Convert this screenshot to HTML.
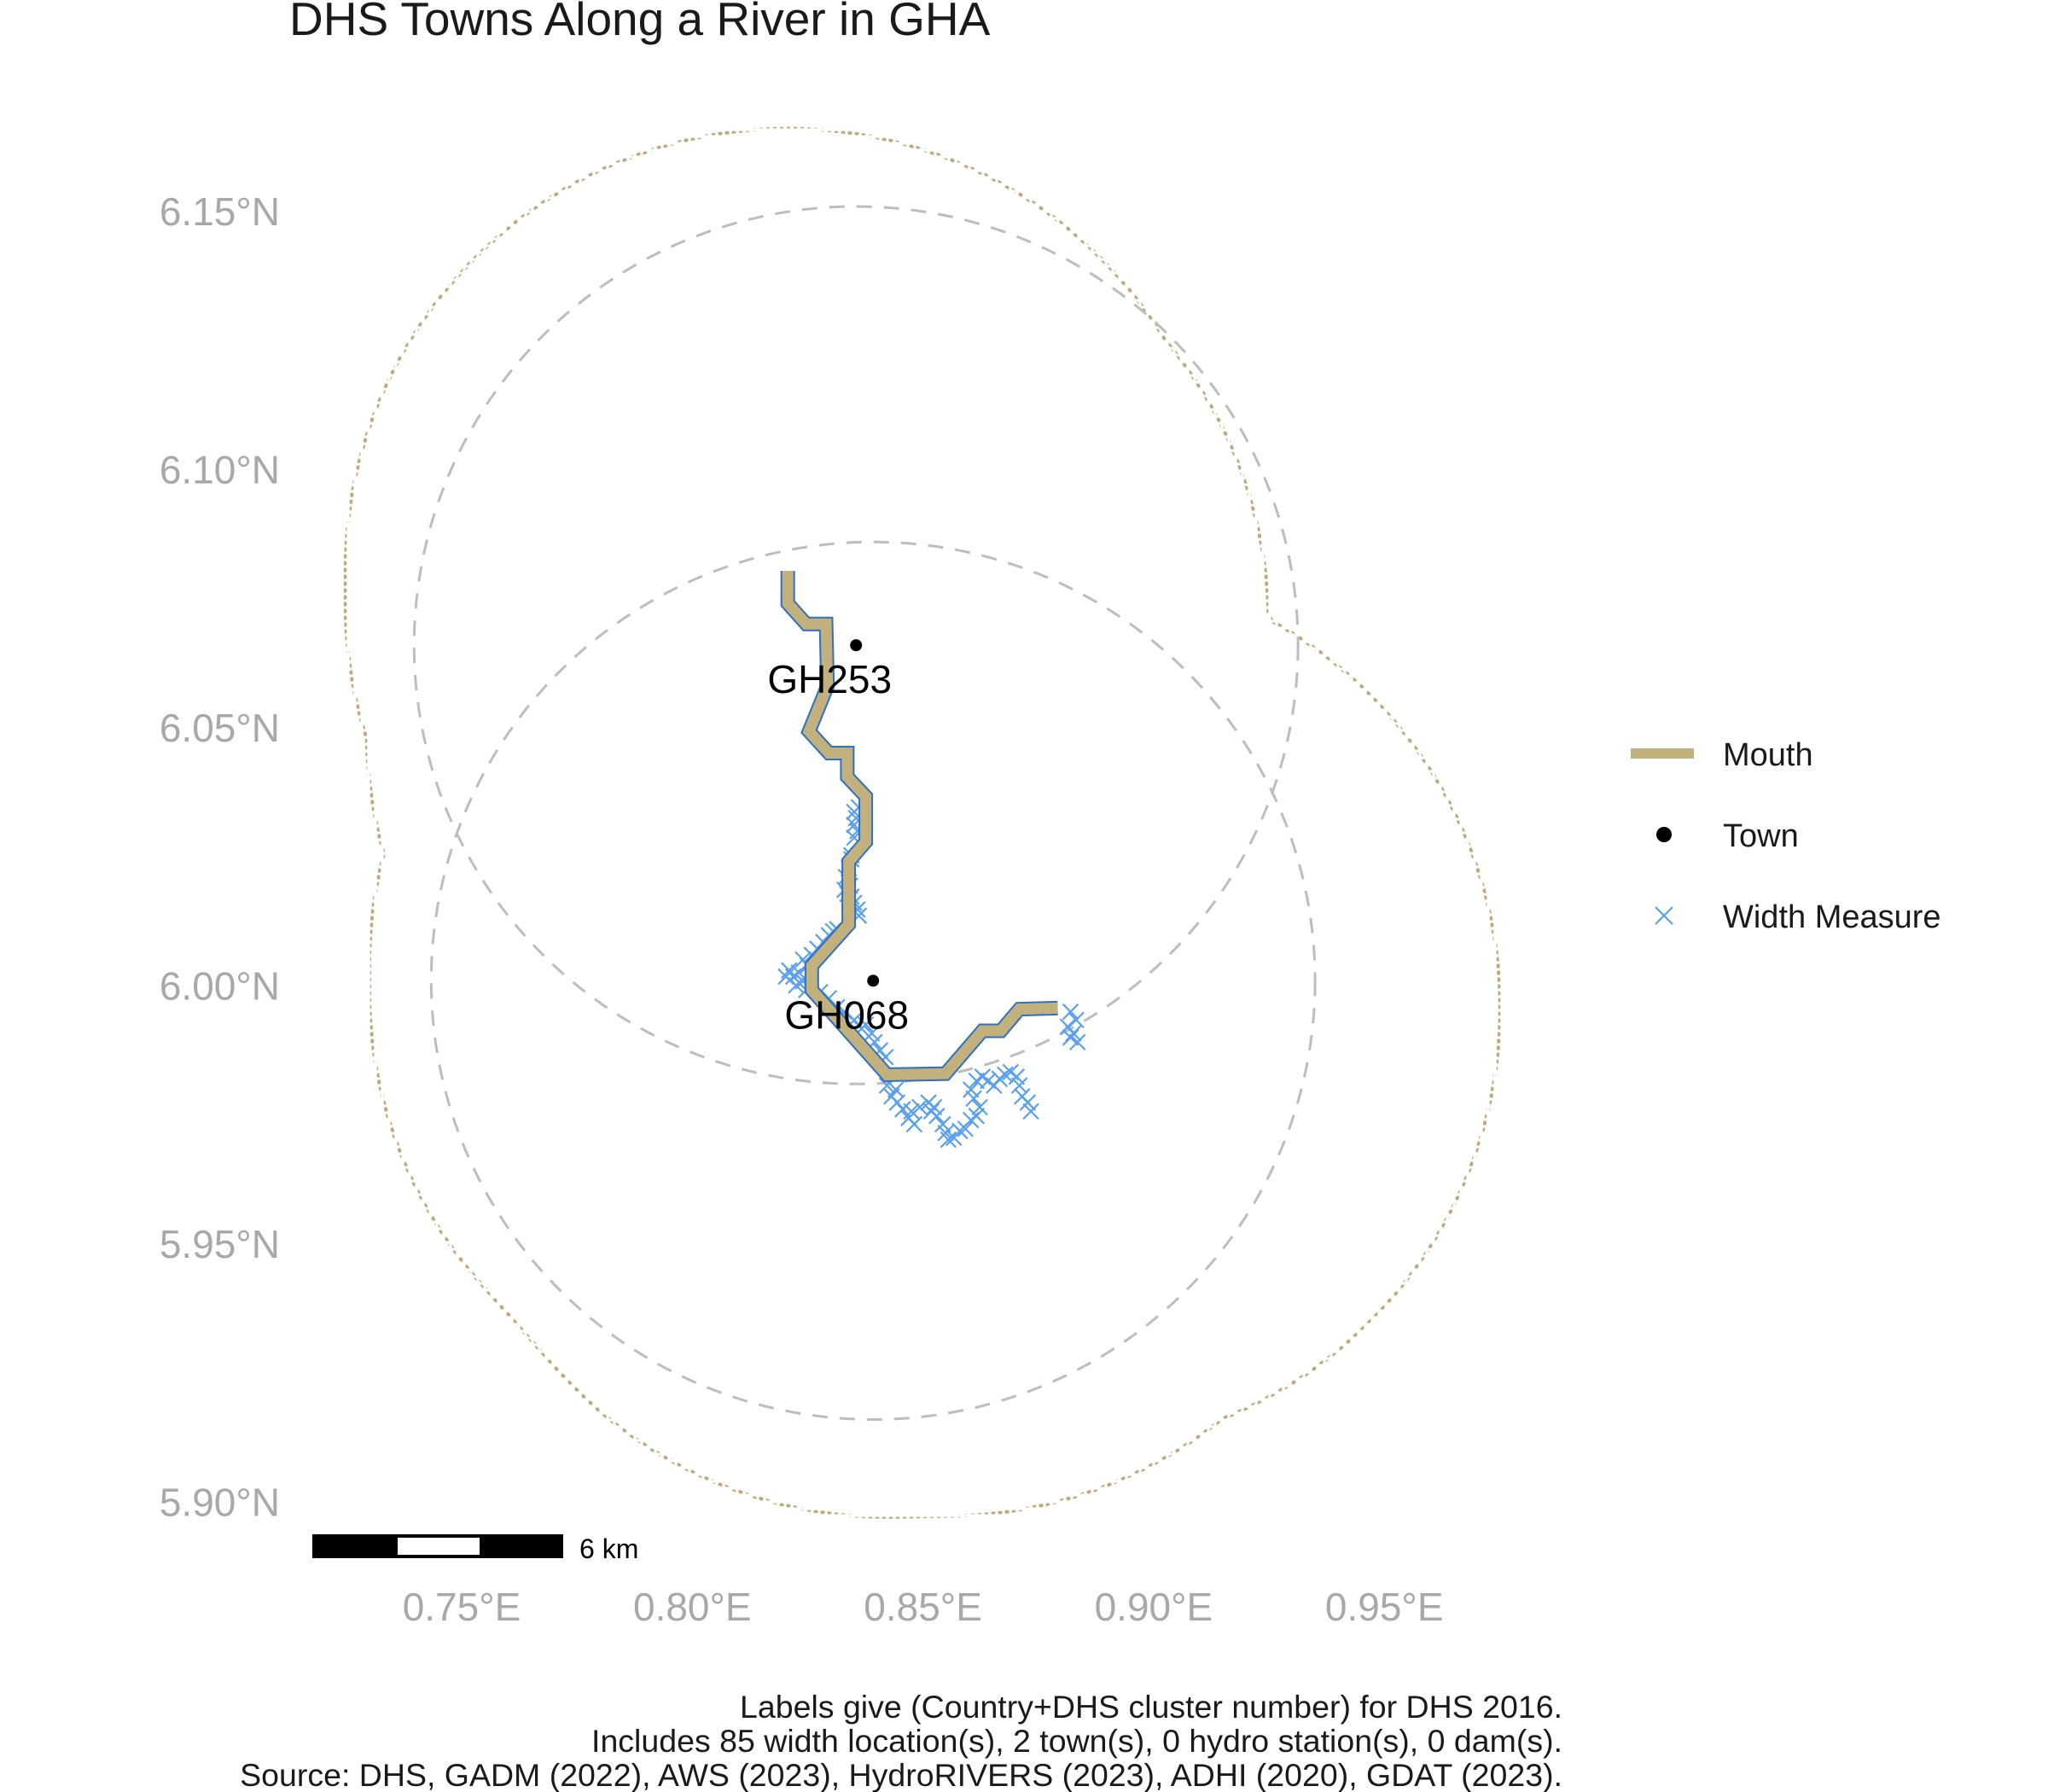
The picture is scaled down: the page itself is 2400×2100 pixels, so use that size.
<!DOCTYPE html>
<html><head><meta charset="utf-8">
<style>
html,body{margin:0;padding:0;background:#fff;}
svg{display:block;font-family:"Liberation Sans",Arial,sans-serif;}
</style></head>
<body>
<svg id="chart" width="2400" height="2100" viewBox="0 0 2400 2100" xmlns="http://www.w3.org/2000/svg">
<defs>
<pattern id="dots" width="8" height="8" patternUnits="userSpaceOnUse">
<circle cx="4" cy="4" r="2.6" fill="#bfa878"/>
</pattern>
<mask id="ringMask" maskUnits="userSpaceOnUse" x="0" y="0" width="2400" height="2100">
<rect x="0" y="0" width="2400" height="2100" fill="black"/>
<polyline id="maskOuter" fill="none" stroke="white" stroke-linejoin="round" stroke-linecap="round"/>
<polyline id="maskInner" fill="none" stroke="black" stroke-linejoin="round" stroke-linecap="round"/>
</mask>
</defs>
<text x="339" y="41" font-size="55" fill="#1a1a1a">DHS Towns Along a River in GHA</text>
<g id="yaxis"></g>
<g id="xaxis"></g>
<rect x="0" y="0" width="2400" height="2100" fill="url(#dots)" mask="url(#ringMask)"/>
<g id="townBuffers"></g>
<g id="widths"></g>
<g id="river"></g>
<g id="towns"></g>

<g>
<line x1="1911" y1="883" x2="1985" y2="883" stroke="#c2b07d" stroke-width="12"/>
<text x="2019" y="897" font-size="38" fill="#1a1a1a">Mouth</text>
<circle cx="1950" cy="978" r="9" fill="#000"/>
<text x="2019" y="992" font-size="38" fill="#1a1a1a">Town</text>
<g stroke="#5aa0f0" stroke-width="2.2">
<line x1="1940" y1="1063" x2="1960" y2="1083"/><line x1="1940" y1="1083" x2="1960" y2="1063"/></g>
<text x="2019" y="1087" font-size="38" fill="#1a1a1a">Width Measure</text>
</g>

<g>
<rect x="366" y="1798" width="294" height="28" fill="#000"/>
<rect x="466" y="1802" width="96" height="20" fill="#fff"/>
<text x="679" y="1826" font-size="32" fill="#000">6 km</text>
</g>

<g font-size="37.5" fill="#1a1a1a" text-anchor="end">
<text x="1831" y="2013">Labels give (Country+DHS cluster number) for DHS 2016.</text>
<text x="1831" y="2053">Includes 85 width location(s), 2 town(s), 0 hydro station(s), 0 dam(s).</text>
<text x="1831" y="2093">Source: DHS, GADM (2022), AWS (2023), HydroRIVERS (2023), ADHI (2020), GDAT (2023).</text>
</g>
</svg>
<script>
const xTicks=[0.75,0.80,0.85,0.90,0.95];
const yTicks=[6.15,6.10,6.05,6.00,5.95,5.90];
const xTickLabels=["0.75°E","0.80°E","0.85°E","0.90°E","0.95°E"];
const yTickLabels=["6.15°N","6.10°N","6.05°N","6.00°N","5.95°N","5.90°N"];
const riverLon=[0.8207,0.8207,0.8247,0.8290,0.8293,0.8253,0.8296,0.8336,0.8336,0.8376,0.8376,0.8339,0.8339,0.8259,0.8259,0.8422,0.8549,0.8629,0.8669,0.8709,0.8792];
const riverLat=[6.0804,6.0741,6.0701,6.0701,6.0581,6.0493,6.0451,6.0451,6.0405,6.0367,6.0279,6.0241,6.0119,6.0039,5.9992,5.9828,5.9830,5.9913,5.9913,5.9955,5.9957];
const townNames=["GH253","GH068"];
const townLon=[0.8355,0.8392];
const townLat=[6.0660,6.0010];
const bufferRadiusLon=0.0958;
const bufferRadiusLat=0.0850;
const widthLon=[.8351,.8355,.8351,.8358,.8351,.8345,.8339,.8333,.8342,.8330,.8345,.8351,.8358,.8361,.8314,.8296,.8284,.8271,.8259,.8240,.8210,.8219,.8231,.8240,.8225,.8247,.8277,.8296,.8314,.8330,.8351,.8376,.8389,.8395,.8419,.8422,.8432,.8444,.8456,.8469,.8481,.8475,.8493,.8512,.8524,.8530,.8543,.8549,.8555,.8567,.8580,.8592,.8604,.8616,.8623,.8610,.8604,.8616,.8629,.8641,.8654,.8666,.8678,.8690,.8703,.8709,.8715,.8727,.8734,.8820,.8832,.8814,.8826,.8835,.8820,.8361,.8345,.8336,.8305,.8250,.8203,.8367,.8407,.8441,.8518];
const widthLat=[6.0337,6.0325,6.0312,6.0300,6.0287,6.0253,6.0228,6.0211,6.0194,6.0186,6.0173,6.0161,6.0148,6.0136,6.0110,6.0098,6.0085,6.0072,6.0060,6.0051,6.0030,6.0018,6.0026,6.0009,6.0001,5.9992,5.9988,5.9976,5.9959,5.9950,5.9934,5.9925,5.9908,5.9891,5.9862,5.9807,5.9786,5.9774,5.9761,5.9744,5.9732,5.9757,5.9765,5.9774,5.9765,5.9748,5.9732,5.9715,5.9702,5.9706,5.9719,5.9723,5.9740,5.9748,5.9765,5.9782,5.9799,5.9816,5.9824,5.9816,5.9807,5.9820,5.9828,5.9833,5.9824,5.9807,5.9786,5.9774,5.9757,5.9950,5.9934,5.9921,5.9908,5.9891,5.9900,6.0346,6.0245,6.0178,6.0106,6.0039,6.0018,5.9917,5.9875,5.9799,5.9757];

const NS="http://www.w3.org/2000/svg";
function X(lon){return 541+(lon-0.75)*5406;}
function Y(lat){return 248+(6.15-lat)*6049;}
function mk(tag,attrs,parent){const e=document.createElementNS(NS,tag);for(const k in attrs)e.setAttribute(k,attrs[k]);parent.appendChild(e);return e;}

const yax=document.getElementById('yaxis');
yTicks.forEach((v,i)=>{const t=mk('text',{x:328,y:Y(v)+16,'font-size':46,fill:'#a8a8a8','text-anchor':'end'},yax);


t.textContent=yTickLabels[i];});
const xax=document.getElementById('xaxis');
xTicks.forEach((v,i)=>{const t=mk('text',{x:X(v),y:1899,'font-size':46,fill:'#a8a8a8','text-anchor':'middle'},xax);


t.textContent=xTickLabels[i];});

const pts=riverLon.map((l,i)=>X(l).toFixed(1)+','+Y(riverLat[i]).toFixed(1)).join(' ');
const rpx=bufferRadiusLon*5406;
const mo=document.getElementById('maskOuter');mo.setAttribute('points',pts);mo.setAttribute('stroke-width',2*rpx+5);
const mi=document.getElementById('maskInner');mi.setAttribute('points',pts);mi.setAttribute('stroke-width',2*rpx-3);

const tb=document.getElementById('townBuffers');
townLon.forEach((l,i)=>{const e=mk('ellipse',{cx:X(l),cy:Y(townLat[i]),rx:bufferRadiusLon*5406,ry:bufferRadiusLat*6049,fill:'none',stroke:'#bdbdbd','stroke-width':3,'stroke-dasharray':'18 14'},tb);

});

const wg=document.getElementById('widths');
widthLon.forEach((l,i)=>{const cx=X(l),cy=Y(widthLat[i]),s=9;
const g=mk('g',{stroke:'#5aa0f0','stroke-width':2.2},wg);


mk('line',{x1:cx-s,y1:cy-s,x2:cx+s,y2:cy+s},g);mk('line',{x1:cx-s,y1:cy+s,x2:cx+s,y2:cy-s},g);});

const rg=document.getElementById('river');
const r1=mk('polyline',{points:pts,fill:'none',stroke:'#2f6fc4','stroke-width':17,'stroke-linejoin':'miter'},rg);


const r2=mk('polyline',{points:pts,fill:'none',stroke:'#c2b07d','stroke-width':13,'stroke-linejoin':'miter'},rg);



const tg=document.getElementById('towns');
townLon.forEach((l,i)=>{const cx=X(l),cy=Y(townLat[i]);
const c=mk('circle',{cx:cx,cy:cy,r:7,fill:'#000'},tg);


const t=mk('text',{x:cx-31,y:cy+56,'font-size':46,fill:'#000','text-anchor':'middle'},tg);


t.textContent=townNames[i];});
</script>
</body></html>
